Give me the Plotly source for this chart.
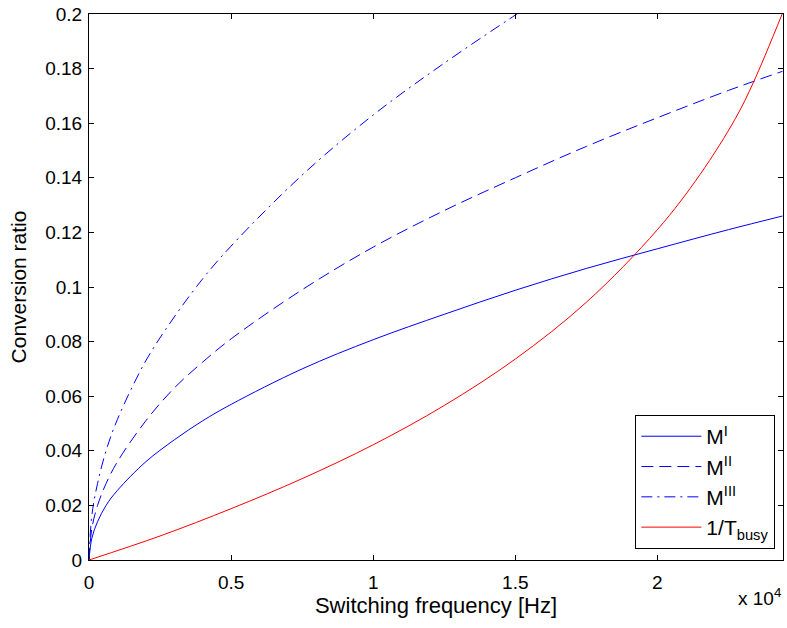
import plotly.graph_objects as go

# x values in Hz
x_blue = [0, 100, 300, 600, 1000, 2000, 3000, 4000, 5000, 7500, 10000, 12500, 15000, 17500, 20000, 22500, 24400]
m1 = [0, 0.008, 0.014, 0.020, 0.0255, 0.036, 0.044, 0.051, 0.057, 0.070, 0.0807, 0.090, 0.0988, 0.1068, 0.114, 0.121, 0.126]
m2 = [0, 0.0115, 0.020, 0.028, 0.036, 0.051, 0.063, 0.0725, 0.081, 0.099, 0.1146, 0.128, 0.140, 0.1515, 0.162, 0.172, 0.179]

x_m3 = [0, 100, 300, 600, 1000, 2000, 3000, 4000, 5000, 7500, 10000, 12500, 15000, 15500]
m3 = [0, 0.0163, 0.028, 0.040, 0.0515, 0.073, 0.089, 0.103, 0.115, 0.141, 0.163, 0.182, 0.1996, 0.203]

x_red = [0, 2500, 5000, 7500, 10000, 12500, 15000, 17500, 20000, 21500, 22750, 23390, 24390]
t_busy = [0, 0.0088, 0.0188, 0.0298, 0.0422, 0.0566, 0.0736, 0.0944, 0.1210, 0.1412, 0.1618, 0.1752, 0.2]

x_tickvals = [0, 5000, 10000, 15000, 20000]
x_ticktext = ["0", "0.5", "1", "1.5", "2"]
y_tickvals = [0, 0.02, 0.04, 0.06, 0.08, 0.1, 0.12, 0.14, 0.16, 0.18, 0.2]

FONT = "Liberation Sans, Arial, Helvetica, sans-serif"

fig = go.Figure()
fig.add_trace(go.Scatter(x=x_blue, y=m1, mode="lines", name="M<sup>I</sup>",
                         line=dict(color="#0000ff", width=1, shape="spline")))
fig.add_trace(go.Scatter(x=x_blue, y=m2, mode="lines", name="M<sup>II</sup>",
                         line=dict(color="#0000ff", width=1, dash="12px,6px", shape="spline")))
fig.add_trace(go.Scatter(x=x_m3, y=m3, mode="lines", name="M<sup>III</sup>",
                         line=dict(color="#0000ff", width=1, dash="11px,5px,2px,5px", shape="spline")))
fig.add_trace(go.Scatter(x=x_red, y=t_busy, mode="lines", name="1/T<sub>busy</sub>",
                         line=dict(color="#ff0000", width=1, shape="spline")))

axis_common = dict(showline=True, linecolor="black", linewidth=1, mirror="ticks",
                   ticks="inside", ticklen=5, tickcolor="black", showgrid=False,
                   zeroline=False, tickfont=dict(family=FONT, size=19, color="black"))

fig.update_xaxes(range=[0, 24420], tickvals=x_tickvals, ticktext=x_ticktext,
                 ticklabelstandoff=5,
                 title=dict(text="Switching frequency [Hz]", standoff=3,
                            font=dict(family=FONT, size=22, color="black")),
                 **axis_common)
fig.update_yaxes(range=[0, 0.2], tickvals=y_tickvals,
                 ticklabelstandoff=2,
                 title=dict(text="Conversion ratio", standoff=12,
                            font=dict(family=FONT, size=21, color="black")),
                 **axis_common)

fig.add_annotation(text="x 10<sup>4</sup>", xref="paper", yref="paper", x=1.0, y=-0.068,
                   xanchor="right", yanchor="middle", showarrow=False,
                   font=dict(family=FONT, size=19, color="black"))

fig.update_layout(
    width=787, height=628,
    margin=dict(l=89, r=4, t=14, b=68),
    paper_bgcolor="white", plot_bgcolor="white",
    font=dict(family=FONT, size=18, color="black"),
    legend=dict(x=0.989, y=0.02, xanchor="right", yanchor="bottom",
                bgcolor="white", bordercolor="black", borderwidth=1,
                font=dict(family=FONT, size=21, color="black"),
                tracegroupgap=0, itemwidth=60),
    showlegend=True,
)

fig.write_html("out.html")
